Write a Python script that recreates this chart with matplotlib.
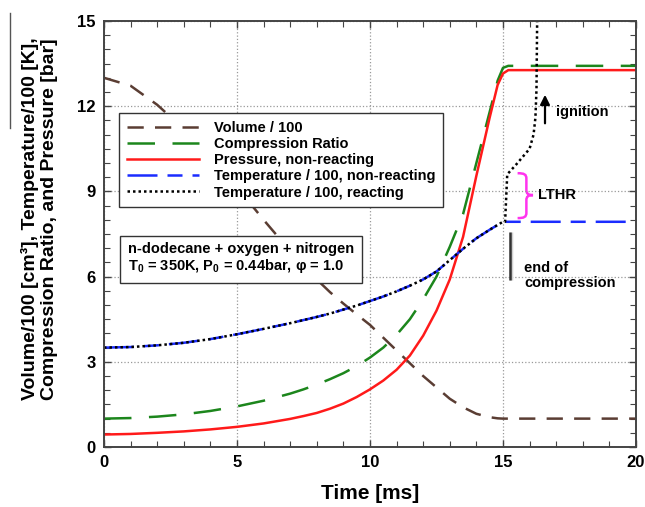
import matplotlib
matplotlib.use("Agg")
import matplotlib.pyplot as plt
from matplotlib.path import Path
from matplotlib.patches import PathPatch
from matplotlib.lines import Line2D
from matplotlib.ticker import MultipleLocator

plt.rcParams['font.family'] = ['Liberation Sans', 'DejaVu Sans']
plt.rcParams['mathtext.fontset'] = 'custom'
plt.rcParams['mathtext.rm'] = 'Liberation Sans'
plt.rcParams['mathtext.bf'] = 'Liberation Sans:bold'

# time grid [ms] shared by the compression curves
time_ms = [0, 1, 2, 3, 4, 5, 6, 7, 7.5, 8, 8.5, 9, 9.5, 10, 10.5, 11, 11.5, 12,
           12.5, 13, 13.5, 14, 14.5, 14.8, 15, 15.2, 20]

volume = [13.0, 12.72, 12.05, 11.2, 10.2, 9.15, 8.0, 6.9, 6.4, 5.9, 5.45, 5.05,
          4.67, 4.3, 3.85, 3.4, 2.95, 2.5, 2.1, 1.7, 1.4, 1.17, 1.05, 1.01, 1.0, 1.0, 1.0]
comp_ratio = [1.0, 1.02, 1.07, 1.15, 1.27, 1.43, 1.63, 1.88, 2.03, 2.2, 2.39, 2.6,
              2.85, 3.15, 3.5, 3.95, 4.5, 5.2, 6.0, 7.05, 8.2, 10.0, 11.8, 12.9,
              13.35, 13.42, 13.42]
pressure = [0.44, 0.46, 0.5, 0.55, 0.62, 0.71, 0.83, 0.99, 1.09, 1.2, 1.35, 1.53,
            1.76, 2.03, 2.34, 2.72, 3.22, 3.92, 4.8, 5.9, 7.4, 9.55, 11.6, 12.75,
            13.15, 13.27, 13.27]
temp_nr = [3.5, 3.52, 3.58, 3.67, 3.8, 3.97, 4.16, 4.36, 4.47, 4.58, 4.7, 4.84,
           4.98, 5.14, 5.3, 5.48, 5.68, 5.9, 6.18, 6.58, 6.98, 7.35, 7.65, 7.82,
           7.93, 7.93, 7.93]

# reacting case after end of compression (LTHR step, then ignition)
t_react_tail = [15.08, 15.16, 15.5, 16.0, 16.15, 16.22, 16.26, 16.29]
temp_react_tail = [7.93, 9.6, 9.95, 10.5, 11.0, 11.6, 12.6, 15.5]

n_eoc = time_ms.index(15)
t_react = time_ms[:n_eoc + 1] + t_react_tail
temp_react = temp_nr[:n_eoc + 1] + temp_react_tail

fig = plt.figure(figsize=(6.45, 5.07), dpi=100)
ax = fig.add_axes([0.1612, 0.1183, 0.8248, 0.8403])

lw = 1.8
ax.plot(time_ms, volume, color='#5a3d33', lw=lw, dashes=(6.5, 4.5), label='Volume / 100')
ax.plot(time_ms, comp_ratio, color='#1c861c', lw=lw, dashes=(11, 7), label='Compression Ratio')
ax.plot(time_ms, pressure, color='#ff1a1a', lw=lw, label='Pressure, non-reacting')
ax.plot(time_ms, temp_nr, color='#1a2cff', lw=lw, dashes=(12, 4, 6, 4),
        label='Temperature / 100, non-reacting')
ax.plot(t_react, temp_react, color='black', lw=lw, dashes=(1, 1.2),
        label='Temperature / 100, reacting')

ax.set_xlim(0, 20)
ax.set_ylim(0, 15)
ax.xaxis.set_major_locator(MultipleLocator(5))
ax.xaxis.set_minor_locator(MultipleLocator(1))
ax.yaxis.set_major_locator(MultipleLocator(3))
ax.yaxis.set_minor_locator(MultipleLocator(0.5))
ax.tick_params(which='both', direction='in', top=True, right=True, color='#444444')
ax.tick_params(which='major', length=5, width=1, labelsize=12, pad=6)
ax.tick_params(which='minor', length=4, width=0.8)
for lab in ax.get_xticklabels() + ax.get_yticklabels():
    lab.set_fontweight('bold')
for sp in ax.spines.values():
    sp.set_color('#444444')
    sp.set_linewidth(1.4)
ax.grid(True, which='major', ls=':', color='#999999', lw=0.9)

ax.set_xlabel('Time [ms]', fontsize=15, fontweight='bold', labelpad=10)
ax.set_ylabel('Volume/100 [cm³], Temperature/100 [K],\nCompression Ratio, and Pressure [bar]',
              fontsize=14, fontweight='bold', linespacing=1.2)
ax.yaxis.set_label_coords(-0.086, 0.535)

leg = ax.legend(loc='upper left', bbox_to_anchor=(0.015, 0.80),
                prop={'weight': 'bold', 'size': 10.5}, handlelength=5.0,
                handletextpad=1.0, labelspacing=0.15, borderpad=0.5,
                fancybox=False, framealpha=1, edgecolor='#333333')
leg.get_frame().set_linewidth(1.0)

ax.text(0.045, 0.4425,
        'n-dodecane + oxygen + nitrogen\n'
        r'T$_\mathbf{0}$ = 350K, P$_\mathbf{0}$ = 0.44bar, φ = 1.0',
        transform=ax.transAxes, fontsize=10.5, fontweight='bold', va='center',
        linespacing=1.15,
        bbox=dict(boxstyle='square,pad=0.55', fc='white', ec='#333333', lw=1.0),
        zorder=6)

# LTHR brace
brace = Path(
    [(15.55, 9.64), (15.8, 9.64), (15.88, 9.6), (15.88, 9.45),
     (15.88, 9.05),
     (15.88, 8.92), (15.95, 8.87), (16.13, 8.87),
     (15.95, 8.87), (15.88, 8.82), (15.88, 8.69),
     (15.88, 8.25),
     (15.88, 8.1), (15.8, 8.06), (15.55, 8.06)],
    [Path.MOVETO, Path.CURVE4, Path.CURVE4, Path.CURVE4,
     Path.LINETO,
     Path.CURVE4, Path.CURVE4, Path.CURVE4,
     Path.CURVE4, Path.CURVE4, Path.CURVE4,
     Path.LINETO,
     Path.CURVE4, Path.CURVE4, Path.CURVE4])
ax.add_patch(PathPatch(brace, fc='none', ec='#ff33ee', lw=1.8))
ax.text(16.3, 8.87, 'LTHR', fontsize=10.5, fontweight='bold', va='center')

# ignition arrow
ax.annotate('', xy=(16.58, 12.5), xytext=(16.58, 11.3),
            arrowprops=dict(arrowstyle='-|>', color='black', lw=1.6, mutation_scale=14))
ax.text(17.0, 11.8, 'ignition', fontsize=10.5, fontweight='bold', va='center')

# end of compression marker
ax.plot([15.32, 15.32], [5.88, 7.57], color='#d0d0d0', lw=2.5, solid_capstyle='butt')
ax.plot([15.26, 15.26], [5.88, 7.57], color='#333333', lw=1.8, solid_capstyle='butt')
ax.text(15.8, 6.05, 'end of\ncompression', fontsize=10.5, fontweight='bold',
        va='center', linespacing=1.1)

fig.add_artist(Line2D([10 / 645, 10 / 645], [1 - 13 / 507, 1 - 128 / 507],
                      transform=fig.transFigure, color='#555555', lw=1.0))

fig.savefig('out.png', dpi=100)
